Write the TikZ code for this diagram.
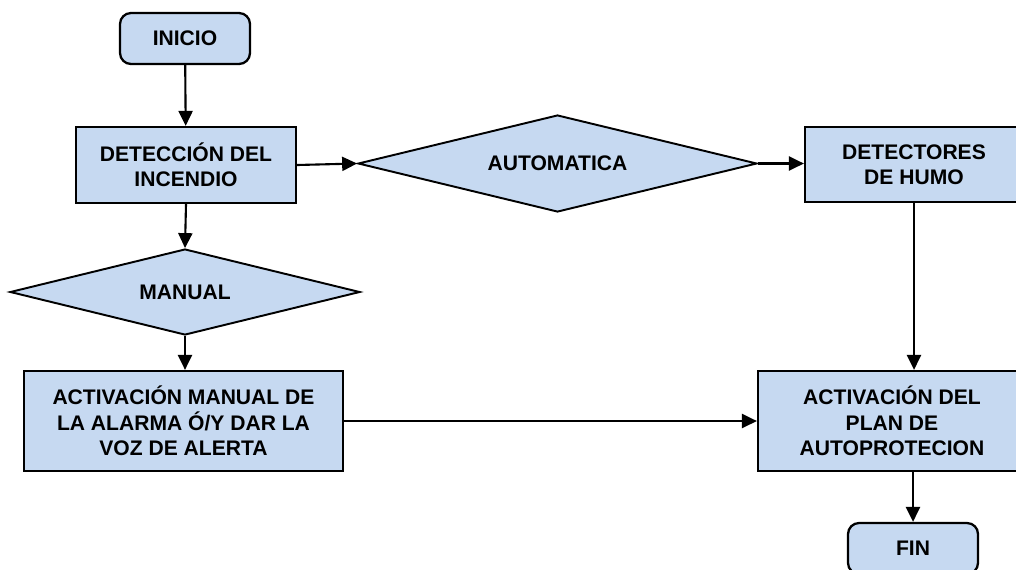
\documentclass[tikz,border=0pt]{standalone}
\usepackage{fontspec}
\setmainfont{Liberation Sans}
\usepackage{xcolor}
\usepackage{tikz}
\usetikzlibrary{arrows.meta,shapes.geometric}
\definecolor{fillb}{HTML}{C6D9F1}
\definecolor{edge}{HTML}{000000}
\tikzset{
  txt/.style={font=\bfseries\fontsize{12}{14.4}\selectfont, align=center, text=black},
  box/.style={txt, rectangle, draw=edge, fill=fillb, line width=1.3pt, inner sep=0pt},
  term/.style={box, rounded corners=0.22cm},
  decision/.style={txt, diamond, aspect=4, draw=edge, fill=fillb, line width=1.1pt, inner sep=0pt},
  flow/.style={draw=black, line width=1.2pt, -{Triangle[length=8.5pt,width=8pt]}},
}

\begin{document}
\begin{tikzpicture}[x=0.02cm, y=-0.02cm]
  \useasboundingbox (0,0) rectangle (1016,569);
  \clip (0,0) rectangle (1016,569);
  \node[term, minimum width=2.6cm, minimum height=1.02cm] (inicio) at (185,38.5) {INICIO};
  \node[box, minimum width=4.4cm, minimum height=1.52cm] (deteccion) at (186,165) {DETECCIÓN DEL\\INCENDIO};
  \node[decision, minimum width=7.98cm, minimum height=1.94cm] (auto) at (557.5,163.5) {AUTOMATICA};
  \node[box, minimum width=4.36cm, minimum height=1.5cm] (detectores) at (914,164.5) {DETECTORES\\DE HUMO};
  \node[decision, minimum width=7cm, minimum height=1.72cm] (manual) at (185,292) {MANUAL};
  \node[box, minimum width=6.38cm, minimum height=2cm] (actman) at (183.5,421) {ACTIVACIÓN MANUAL DE\\LA ALARMA Ó/Y DAR LA\\VOZ DE ALERTA};
  \node[box, minimum width=5.36cm, minimum height=2cm] (plan) at (892,421) {ACTIVACIÓN DEL\\PLAN DE\\AUTOPROTECION};
  \node[term, minimum width=2.6cm, minimum height=1.02cm] (fin) at (913,548.5) {FIN};
  % connectors
  \draw[flow] (inicio) -- (deteccion);
  \draw[flow] (deteccion.south) -- (manual.north);
  \draw[flow] (manual.south) -- (actman.north -| manual.south);
  \draw[flow] (deteccion.east) -- (auto.west);
  \draw[flow] (auto.east) -- (detectores.west |- auto.east);
  \draw[flow] (detectores.south) -- (detectores.south |- plan.north);
  \draw[flow] (actman.east) -- (plan.west |- actman.east);
  \draw[flow] (fin.north |- plan.south) -- (fin.north);
\end{tikzpicture}
\end{document}
